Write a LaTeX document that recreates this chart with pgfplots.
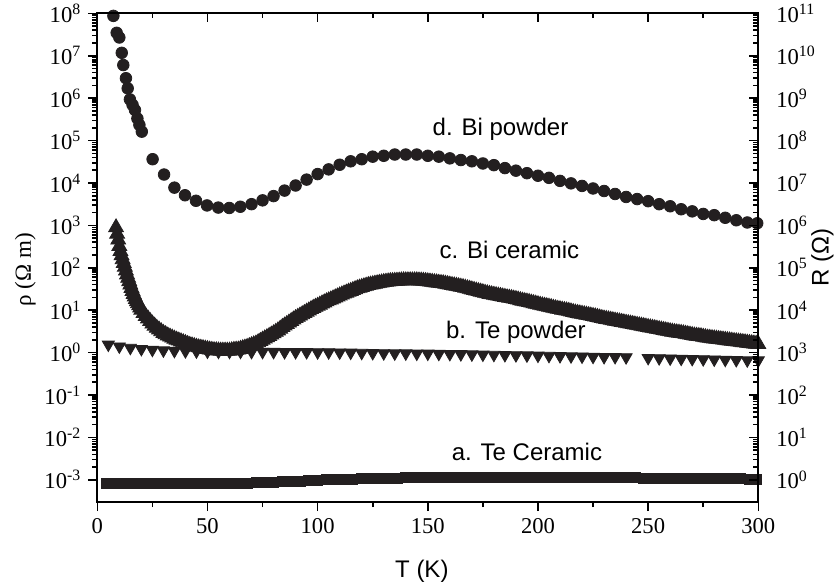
\documentclass[border=0pt]{standalone}
\usepackage{pgfplots}
\pgfplotsset{compat=1.18}
\usepackage{fontspec}
\setmainfont{Liberation Serif}
\setsansfont{Liberation Sans}
\definecolor{ink}{HTML}{231F20}
\begin{document}
\begin{tikzpicture}
\useasboundingbox (-48.65pt,-42pt) rectangle (370.85pt,251pt);
\begin{axis}[
  scale only axis, width=330.5pt, height=244.35pt,
  xmin=0, xmax=300, ymode=log, ymin=3e-4, ymax=1e8,
  clip=false,
  axis line style={line width=1pt},
  tick style={line width=0.8pt, black},
  major tick length=4.5pt, minor tick length=2.5pt,
  tick align=outside,
  xtick pos=bottom, ytick pos=left,
  xtick={0,50,100,150,200,250,300},
  xticklabels={0,50,100,150,200,250,300},
  minor x tick num=1,
  ytick={1e-3,1e-2,1e-1,1,1e1,1e2,1e3,1e4,1e5,1e6,1e7,1e8},
  yticklabels={10\textsuperscript{-3},10\textsuperscript{-2},10\textsuperscript{-1},10\textsuperscript{0},10\textsuperscript{1},10\textsuperscript{2},10\textsuperscript{3},10\textsuperscript{4},10\textsuperscript{5},10\textsuperscript{6},10\textsuperscript{7},10\textsuperscript{8}},
  ticklabel style={font=\fontsize{11.3}{13}\selectfont},
  xlabel={T (K)}, ylabel={ρ (Ω m)},
  every axis x label/.style={at={(axis description cs:0.491,0)}, yshift=-34.5pt, anchor=center, font=\sffamily\fontsize{12}{14}\selectfont},
  every axis y label/.style={at={(axis description cs:0,0.475)}, xshift=-36pt, rotate=90, anchor=center, font=\fontsize{11.5}{14}\selectfont},
]
% a. Te Ceramic
\addplot[only marks, mark=square*, mark size=2.5pt, ink, mark options={fill=ink, draw=ink}] coordinates {
(4,8.32e-4)(8,8.32e-4)(12,8.32e-4)(16,8.32e-4)(20,8.32e-4)(24,8.32e-4)(28,8.32e-4)(32,8.32e-4)
(36,8.32e-4)(40,8.32e-4)(44,8.32e-4)(48,8.32e-4)(52,8.32e-4)(56,8.32e-4)(60,8.32e-4)(64,8.32e-4)
(68,8.41e-4)(72,8.51e-4)(76,8.71e-4)(80,8.91e-4)(84,9.02e-4)(88,9.12e-4)(92,9.33e-4)(96,9.55e-4)
(100,9.77e-4)(104,1.0e-3)(108,1.012e-3)(112,1.023e-3)(116,1.047e-3)(120,1.059e-3)(124,1.072e-3)
(128,1.084e-3)(132,1.096e-3)(136,1.109e-3)(140,1.122e-3)(144,1.135e-3)(148,1.135e-3)(152,1.148e-3)
(156,1.148e-3)(160,1.148e-3)(164,1.148e-3)(168,1.148e-3)(172,1.148e-3)(176,1.148e-3)(180,1.148e-3)
(184,1.148e-3)(188,1.148e-3)(192,1.148e-3)(196,1.148e-3)(200,1.148e-3)(204,1.148e-3)(208,1.148e-3)
(212,1.148e-3)(216,1.148e-3)(220,1.148e-3)(224,1.135e-3)(228,1.135e-3)(232,1.128e-3)(236,1.122e-3)
(240,1.122e-3)(244,1.116e-3)(248,1.109e-3)(252,1.103e-3)(256,1.096e-3)(260,1.096e-3)(264,1.090e-3)
(268,1.084e-3)(272,1.078e-3)(276,1.072e-3)(280,1.072e-3)(284,1.065e-3)(288,1.059e-3)(292,1.053e-3)
(296,1.047e-3)(299,1.047e-3)
};
% b. Te powder
\addplot[only marks, mark=triangle*, mark size=3.5pt, ink, mark options={fill=ink, draw=ink, rotate=180}] coordinates {
(5,1.55)(10,1.40)(15,1.30)(20,1.22)(25,1.17)(30,1.13)(35,1.10)(40,1.08)(45,1.07)(50,1.06)
(55,1.05)(60,1.05)(65,1.05)(70,1.04)(75,1.04)(80,1.04)(85,1.03)(90,1.03)(95,1.03)(100,1.02)
(105,1.02)(110,1.01)(115,1.00)(120,0.99)(125,0.98)(130,0.97)(135,0.96)(140,0.96)(145,0.95)(150,0.95)
(155,0.94)(160,0.93)(165,0.92)(170,0.91)(175,0.90)(180,0.89)(185,0.88)(190,0.87)(195,0.86)(200,0.85)
(205,0.84)(210,0.83)(215,0.82)(220,0.81)(225,0.80)(230,0.79)(235,0.79)(240,0.78)
(250,0.75)(255,0.74)(260,0.73)(265,0.72)(270,0.71)(275,0.70)(280,0.69)(285,0.68)(290,0.67)(295,0.66)(300,0.66)
};
% c. Bi ceramic
\addplot[only marks, mark=triangle*, mark size=4.3pt, ink, mark options={fill=ink, draw=ink}] coordinates {
(8.5,891)(9,631)(9.5,457)(10,324)(10.5,245)(11,195)(11.5,158)(12,129)(12.5,105)(13,85.1)
(13.5,69.2)(14,57.5)(14.5,47.9)(15,39.8)(15.5,33.1)(16,28.2)(16.5,24.0)(17,20.9)(17.5,18.2)(18,16.2)
(18.5,14.5)(19,12.9)(19.5,11.5)(20,10.2)(21,8.51)(22,7.24)(23,6.31)(24,5.50)(25,4.79)(26,4.27)(27,3.80)
(28,3.47)(29,3.16)(30,2.88)(31,2.69)(32,2.51)(33,2.36)(34,2.24)(35,2.11)(36,2.00)(37,1.91)(38,1.82)(39,1.74)(40,1.66)(41,1.58)(42,1.51)(43,1.46)(44,1.41)
(45,1.36)(46,1.32)(47,1.29)(48,1.26)(49,1.23)(50,1.20)(51,1.17)(52,1.15)(53,1.13)(54,1.12)(55,1.11)(56,1.10)(57,1.10)(58,1.10)(59,1.10)(60,1.10)(61,1.12)(62,1.15)(63,1.16)(64,1.17)
(65,1.21)(66,1.26)(67,1.30)(68,1.35)(69,1.41)(70,1.48)(71,1.55)(72,1.62)(73,1.74)(74,1.86)(75,2.00)(76,2.14)(77,2.29)(78,2.45)(79,2.63)(80,2.82)(81,3.06)(82,3.31)(83,3.63)(84,3.98)
(85,4.32)(86,4.68)(87,5.07)(88,5.50)(89,5.97)(90,6.46)(91,6.92)(92,7.41)(93,7.94)(94,8.51)(95,9.12)(96,9.77)(97,10.5)(98,11.2)(99,11.9)(100,12.6)(101,13.4)(102,14.3)(103,15.1)(104,16.0)(105,16.9)(106,17.8)
(107,18.8)(108,19.8)(109,20.9)(110,22.1)(111,23.3)(112,24.5)(113,25.7)(114,27.0)(115,28.2)(116,29.6)(117,31.0)(118,32.4)(119,33.7)(120,35.0)(121,36.3)(122,37.5)(123,38.7)(124,39.8)(125,40.7)(126,41.7)(127,42.7)(128,43.7)(129,44.7)(130,45.7)(131,46.4)(132,47.2)(133,47.9)(134,48.3)(135,48.6)(136,49.0)
(137,49.4)(138,49.8)(139,50.1)(140,50.1)(141,50.1)(142,50.1)(143,50.1)(144,50.1)(145,50.1)(146,49.7)(147,49.4)(148,49.0)(149,48.3)(150,47.5)(151,46.8)(152,46.1)(153,45.4)(154,44.7)(155,44.0)(156,43.3)(157,42.7)(158,41.7)(159,40.7)(160,39.8)(161,38.9)(162,38.0)(163,37.2)(164,36.3)(165,35.5)(166,34.7)
(167,33.6)(168,32.6)(169,31.6)(170,30.6)(171,29.7)(172,28.8)(173,27.9)(174,27.1)(175,26.3)(176,25.5)(177,24.7)(178,24.0)(179,23.4)(180,22.9)(181,22.4)(182,21.9)(183,21.4)(184,20.9)(185,20.4)(186,19.9)(187,19.5)(188,19.1)(189,18.6)(190,18.2)(191,17.7)(192,17.1)(193,16.6)(194,16.2)(195,15.8)(196,15.5)
(197,15.0)(198,14.5)(199,14.1)(200,13.7)(201,13.3)(202,12.9)(203,12.6)(204,12.3)(205,12.0)(206,11.7)(207,11.3)(208,11.0)(209,10.7)(210,10.5)(211,10.2)(212,9.98)(213,9.77)(214,9.55)(215,9.26)(216,8.98)(217,8.71)(218,8.51)(219,8.32)(220,8.13)(221,7.94)(222,7.76)(223,7.59)(224,7.41)(225,7.24)(226,7.08)
(227,6.87)(228,6.66)(229,6.46)(230,6.31)(231,6.17)(232,6.03)(233,5.89)(234,5.75)(235,5.62)(236,5.50)(237,5.37)(238,5.25)(239,5.13)(240,5.01)(241,4.90)(242,4.79)(243,4.68)(244,4.57)(245,4.47)(246,4.37)(247,4.27)(248,4.17)(249,4.07)(250,3.98)(251,3.89)(252,3.80)(253,3.72)(254,3.63)(255,3.55)(256,3.47)
(257,3.39)(258,3.31)(259,3.24)(260,3.16)(261,3.09)(262,3.02)(263,2.97)(264,2.92)(265,2.88)(266,2.82)(267,2.75)(268,2.69)(269,2.63)(270,2.57)(271,2.51)(272,2.47)(273,2.44)(274,2.40)(275,2.34)(276,2.29)(277,2.24)(278,2.21)(279,2.17)(280,2.14)(281,2.11)(282,2.07)(283,2.04)(284,2.01)(285,1.98)(286,1.95)
(287,1.92)(288,1.89)(289,1.86)(290,1.83)(291,1.81)(292,1.78)(293,1.75)(294,1.73)(295,1.70)(296,1.67)(297,1.65)(298,1.62)(299,1.60)(300,1.58)
};
% d. Bi powder
\addplot[only marks, mark=*, mark size=2.9pt, ink, mark options={fill=ink, draw=ink}] coordinates {
(7.3,8.7e7)(8.8,3.47e7)(10,2.69e7)(11.1,1.17e7)(11.8,6.03e6)(13,2.95e6)(13.8,1.70e6)(14.8,9.33e5)
(16,6.92e5)(17.1,5.25e5)(18.2,3.31e5)(19.1,2.34e5)(20.2,1.62e5)(25.1,3.63e4)(30.3,1.58e4)(35,7.76e3)
(39.8,5.13e3)(44.8,3.80e3)(49.8,2.95e3)(54.9,2.63e3)(59.9,2.57e3)(64.9,2.75e3)(70,3.16e3)(75,3.89e3)
(80,4.90e3)(85,6.61e3)(90,8.71e3)(95,1.20e4)(100,1.62e4)(105,2.09e4)(110,2.69e4)(115,3.24e4)
(120,3.63e4)(125,4.17e4)(130,4.37e4)(135,4.68e4)(140,4.68e4)(145,4.68e4)(150,4.37e4)(155,4.17e4)
(160,3.80e4)(165,3.47e4)(170,3.24e4)(175,2.88e4)(180,2.63e4)(185,2.24e4)(190,1.95e4)(195,1.70e4)
(200,1.48e4)(205,1.32e4)(210,1.12e4)(215,9.77e3)(220,8.51e3)(225,7.41e3)(230,6.46e3)(235,5.50e3)
(240,4.68e3)(245,4.17e3)(250,3.72e3)(255,3.16e3)(260,2.82e3)(265,2.40e3)(270,2.14e3)(275,1.86e3)
(280,1.74e3)(285,1.51e3)(290,1.32e3)(295,1.17e3)(299.5,1.12e3)
};
\node[font=\sffamily\fontsize{12}{14}\selectfont] at (axis cs:183,1.8e5) {d. Bi powder};
\node[font=\sffamily\fontsize{12}{14}\selectfont] at (axis cs:187,263) {c. Bi ceramic};
\node[font=\sffamily\fontsize{12}{14}\selectfont] at (axis cs:190,3.0) {b. Te powder};
\node[font=\sffamily\fontsize{12}{14}\selectfont] at (axis cs:195,4.5e-3) {a. Te Ceramic};
\end{axis}
\begin{axis}[
  scale only axis, width=330.5pt, height=244.35pt,
  xmin=0, xmax=300, ymode=log, ymin=0.3, ymax=1e11,
  axis line style={line width=1pt},
  tick style={line width=0.8pt, black},
  major tick length=4.5pt, minor tick length=2.5pt,
  tick align=inside,
  xtick pos=top, ytick pos=right,
  xtick={0,50,100,150,200,250,300},
  xticklabels={},
  minor x tick num=1,
  ytick={1,1e1,1e2,1e3,1e4,1e5,1e6,1e7,1e8,1e9,1e10,1e11},
  yticklabels={10\textsuperscript{0},10\textsuperscript{1},10\textsuperscript{2},10\textsuperscript{3},10\textsuperscript{4},10\textsuperscript{5},10\textsuperscript{6},10\textsuperscript{7},10\textsuperscript{8},10\textsuperscript{9},10\textsuperscript{10},10\textsuperscript{11}},
  ticklabel style={font=\fontsize{11.3}{13}\selectfont},
  yticklabel style={anchor=west, xshift=5.5pt},
  ylabel={R (Ω)},
  every axis y label/.style={at={(axis description cs:1,0.5)}, xshift=32pt, rotate=90, anchor=center, font=\sffamily\fontsize{12}{14}\selectfont},
]
\end{axis}
\end{tikzpicture}
\end{document}
